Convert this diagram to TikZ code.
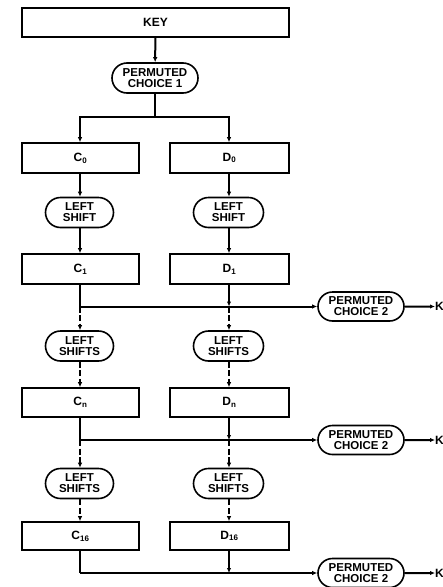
\documentclass[tikz,border=0pt]{standalone}
\usepackage{fontspec}
\setmainfont{Liberation Sans}
\usetikzlibrary{arrows.meta,shapes.misc}
\begin{document}
\begin{tikzpicture}[x=1pt,y=-1pt,
  font=\bfseries\fontsize{12}{12}\selectfont,
  box/.style={draw,line width=1.6pt,rectangle,inner sep=0pt,minimum height=29pt},
  pill/.style={draw,line width=1.6pt,rounded rectangle,inner sep=0pt,align=center,minimum height=30pt,font=\bfseries\fontsize{11.5}{11}\selectfont},
  ln/.style={line width=2pt},
  arr/.style={ln,-{Latex[length=5pt,width=4.5pt]}},
  dsh/.style={arr,dash pattern=on 6pt off 2.5pt},
  kout/.style={inner sep=0pt,anchor=west,font=\bfseries\fontsize{12}{12}\selectfont}]
\clip (0,0) rectangle (443,587);
\useasboundingbox (0,0) rectangle (443,587);
% top
\node[box,minimum width=267pt] (key) at (155.5,22.5) {KEY};
\node[pill,minimum width=86pt] (pc1) at (155,78) {PERMUTED\\CHOICE 1};
\coordinate (j0) at (155,117);
% boxes
\node[box,minimum width=117pt,minimum height=30pt] (c0) at (80.5,158) {C\textsubscript{0}};
\node[box,minimum width=119pt,minimum height=30pt] (d0) at (229.5,158) {D\textsubscript{0}};
\node[pill,minimum width=68pt] (ls1c) at (79.5,212.5) {LEFT\\SHIFT};
\node[pill,minimum width=70pt] (ls1d) at (228.5,212.5) {LEFT\\SHIFT};
\node[box,minimum width=117pt,minimum height=30pt] (c1) at (80.5,269) {C\textsubscript{1}};
\node[box,minimum width=119pt,minimum height=30pt] (d1) at (229.5,269) {D\textsubscript{1}};
\node[pill,minimum width=68pt] (ls2c) at (79.5,346) {LEFT\\SHIFTS};
\node[pill,minimum width=70pt] (ls2d) at (228.5,346) {LEFT\\SHIFTS};
\node[box,minimum width=117pt] (cn) at (80.5,402.5) {C\textsubscript{n}};
\node[box,minimum width=119pt] (dn) at (229.5,402.5) {D\textsubscript{n}};
\node[pill,minimum width=68pt] (ls3c) at (79.5,483.5) {LEFT\\SHIFTS};
\node[pill,minimum width=70pt] (ls3d) at (228.5,483.5) {LEFT\\SHIFTS};
\node[box,minimum width=117pt,minimum height=28pt] (c16) at (80.5,536) {C\textsubscript{16}};
\node[box,minimum width=119pt,minimum height=28pt] (d16) at (229.5,536) {D\textsubscript{16}};
% PC2
\node[pill,minimum width=86pt,minimum height=29pt] (pa) at (361,306.5) {PERMUTED\\CHOICE 2};
\node[pill,minimum width=86pt,minimum height=29pt] (pb) at (361,440) {PERMUTED\\CHOICE 2};
\node[pill,minimum width=86pt,minimum height=29pt] (pc) at (361,573) {PERMUTED\\CHOICE 2};
\node[kout] (ka) at (435,306.5) {K};
\node[kout] (kb) at (435,440) {K};
\node[kout] (kc) at (435,573) {K};
% junctions
\coordinate (h1c) at (80,306.5); \coordinate (h1d) at (229,306.5);
\coordinate (h2c) at (80,440); \coordinate (h2d) at (229,440);
\coordinate (h3c) at (80,573); \coordinate (h3d) at (229,573);
% connectors
\draw[arr] (key) -- (pc1);
\draw[ln] (pc1) -- (j0);
\draw[arr] (j0) -| (c0.north -| h1c);
\draw[arr] (j0) -| (d0.north -| h1d);
\draw[arr] (c0.south -| h1c) -- (ls1c.north -| h1c);
\draw[arr] (d0.south -| h1d) -- (ls1d.north -| h1d);
\draw[arr] (ls1c.south -| h1c) -- (c1.north -| h1c);
\draw[arr] (ls1d.south -| h1d) -- (d1.north -| h1d);
% level 1
\draw[ln] (c1.south -| h1c) -- (h1c);
\draw[arr] (h1c) -- (pa.west);
\draw[arr] (d1.south -| h1d) -- (h1d);
\draw[dsh] (h1c) -- (ls2c.north -| h1c);
\draw[dsh] (h1d) -- (ls2d.north -| h1d);
\draw[dsh] (ls2c.south -| h1c) -- (cn.north -| h1c);
\draw[dsh] (ls2d.south -| h1d) -- (dn.north -| h1d);
\draw[arr] (pa) -- (ka);
% level n
\draw[ln] (cn.south -| h2c) -- (h2c);
\draw[arr] (h2c) -- (pb.west);
\draw[arr] (dn.south -| h2d) -- (h2d);
\draw[dsh] (h2c) -- (ls3c.north -| h2c);
\draw[dsh] (h2d) -- (ls3d.north -| h2d);
\draw[dsh] (ls3c.south -| h2c) -- (c16.north -| h2c);
\draw[dsh] (ls3d.south -| h2d) -- (d16.north -| h2d);
\draw[arr] (pb) -- (kb);
% level 16
\draw[ln] (c16.south -| h3c) -- (h3c);
\draw[arr] (h3c) -- (pc.west);
\draw[arr] (d16.south -| h3d) -- (h3d);
\draw[arr] (pc) -- (kc);
\end{tikzpicture}
\end{document}
